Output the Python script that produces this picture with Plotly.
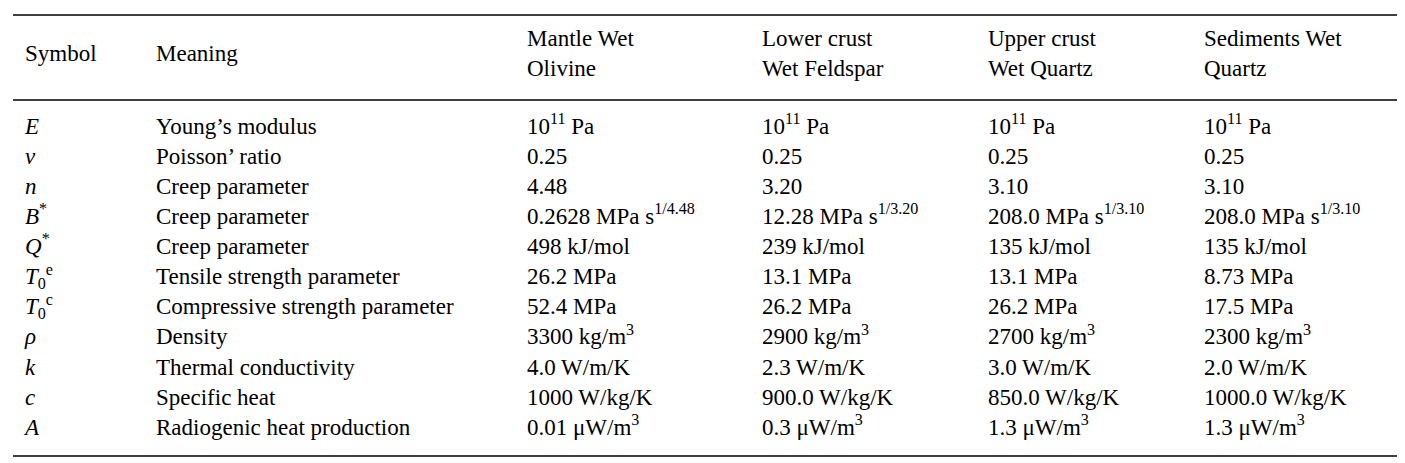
import plotly.graph_objects as go

H = 463
W = 1405

headers = ["Symbol", "Meaning", "Mantle Wet<br>Olivine", "Lower crust<br>Wet Feldspar",
           "Upper crust<br>Wet Quartz", "Sediments Wet<br>Quartz"]
symbols = ["<i>E</i>", "<i>ν</i>", "<i>n</i>", "<i>B</i><sup>*</sup>", "<i>Q</i><sup>*</sup>",
           "<i>T</i><sub>0</sub><sup>e</sup>", "<i>T</i><sub>0</sub><sup>c</sup>",
           "<i>ρ</i>", "<i>k</i>", "<i>c</i>", "<i>A</i>"]
meaning = ["Young’s modulus", "Poisson’ ratio", "Creep parameter", "Creep parameter",
           "Creep parameter", "Tensile strength parameter", "Compressive strength parameter",
           "Density", "Thermal conductivity", "Specific heat", "Radiogenic heat production"]
mantle = ["10<sup>11</sup> Pa", "0.25", "4.48", "0.2628 MPa s<sup>1/4.48</sup>", "498 kJ/mol",
          "26.2 MPa", "52.4 MPa", "3300 kg/m<sup>3</sup>", "4.0 W/m/K", "1000 W/kg/K",
          "0.01 μW/m<sup>3</sup>"]
lower = ["10<sup>11</sup> Pa", "0.25", "3.20", "12.28 MPa s<sup>1/3.20</sup>", "239 kJ/mol",
         "13.1 MPa", "26.2 MPa", "2900 kg/m<sup>3</sup>", "2.3 W/m/K", "900.0 W/kg/K",
         "0.3 μW/m<sup>3</sup>"]
upper = ["10<sup>11</sup> Pa", "0.25", "3.10", "208.0 MPa s<sup>1/3.10</sup>", "135 kJ/mol",
         "13.1 MPa", "26.2 MPa", "2700 kg/m<sup>3</sup>", "3.0 W/m/K", "850.0 W/kg/K",
         "1.3 μW/m<sup>3</sup>"]
sediments = ["10<sup>11</sup> Pa", "0.25", "3.10", "208.0 MPa s<sup>1/3.10</sup>", "135 kJ/mol",
             "8.73 MPa", "17.5 MPa", "2300 kg/m<sup>3</sup>", "2.0 W/m/K", "1000.0 W/kg/K",
             "1.3 μW/m<sup>3</sup>"]

columns = [symbols, meaning, mantle, lower, upper, sediments]
col_x = [17, 148, 519, 754, 980, 1196]   # left edge of each column, in pixels
row0, pitch = 120, 30.1                   # first body row centre and row spacing, pixels
header_y = (47 - row0) / pitch

font = dict(family="Liberation Serif", size=23, color="black")
fig = go.Figure()
for cx, head, vals in zip(col_x, headers, columns):
    fig.add_trace(go.Scatter(
        x=[cx] * (len(vals) + 1), y=[header_y] + list(range(len(vals))),
        text=[head] + vals, mode="text", textposition="middle right",
        textfont=font, hoverinfo="skip", showlegend=False))

for ypx in [7, 92, 448]:
    y = 1 - ypx / H
    fig.add_shape(type="line", xref="paper", yref="paper", x0=5 / W, x1=1392 / W,
                  y0=y, y1=y, line=dict(color="black", width=1.3))

fig.update_xaxes(range=[0, W], visible=False)
fig.update_yaxes(range=[(H - row0) / pitch, -row0 / pitch], visible=False)
fig.update_layout(width=W, height=H, margin=dict(l=0, r=0, t=0, b=0),
                  paper_bgcolor="white", plot_bgcolor="white")
fig.write_html("out.html")
